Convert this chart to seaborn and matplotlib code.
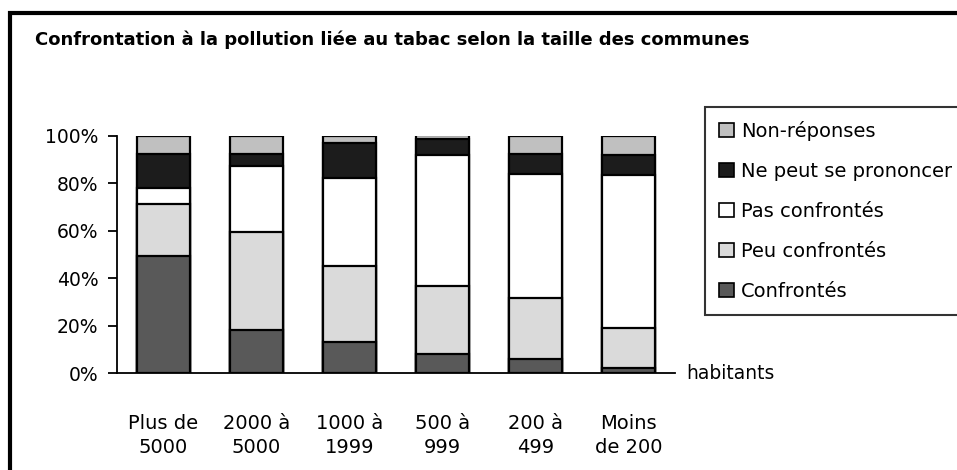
import pandas as pd
import numpy as np
import matplotlib.pyplot as plt
from matplotlib.patches import Patch, Rectangle
import seaborn as sns

sns.set_style('white')
plt.rcParams['font.family'] = ['DejaVu Sans']
plt.rcParams['text.color'] = 'black'

# chart data (percent of respondents)
communes = ['Plus de\n5000', '2000 à\n5000', '1000 à\n1999', '500 à\n999', '200 à\n499', 'Moins\nde 200']
confrontes = [49.4, 18.2, 13.3, 8.1, 5.9, 2.1]
peu_confrontes = [21.9, 41.4, 32.0, 28.8, 25.9, 17.0]
pas_confrontes = [6.6, 27.4, 36.8, 54.7, 52.1, 64.1]
ne_peut = [14.5, 5.4, 14.7, 6.9, 8.5, 8.5]
non_reponses = [7.6, 7.6, 3.2, 1.5, 7.6, 8.3]

series = ['Confrontés', 'Peu confrontés', 'Pas confrontés', 'Ne peut se prononcer', 'Non-réponses']
colors = ['#595959', '#dadada', '#ffffff', '#1c1c1c', '#c0c0c0']

df = pd.DataFrame({
    'Taille': communes,
    'Confrontés': confrontes,
    'Peu confrontés': peu_confrontes,
    'Pas confrontés': pas_confrontes,
    'Ne peut se prononcer': ne_peut,
    'Non-réponses': non_reponses,
})
# normalise each bar to 100 % and stack
df[series] = df[series].div(df[series].sum(axis=1), axis=0) * 100
cum = df[series].cumsum(axis=1)

fig = plt.figure(figsize=(9.57, 4.70), dpi=100)
ax = fig.add_axes([117 / 957, 1 - 373.3 / 470, 558 / 957, 237.8 / 470])

# draw cumulative bars from the top layer down
for name, col in reversed(list(zip(series, colors))):
    tmp = pd.DataFrame({'Taille': df['Taille'], 'val': cum[name]})
    sns.barplot(data=tmp, x='Taille', y='val', color=col, saturation=1,
                width=0.58, edgecolor='black', linewidth=1.6, errorbar=None, ax=ax)

ax.set_xlim(-0.5, 5.5)
ax.set_ylim(0, 100)
ax.set_yticks(np.arange(0, 101, 20))
ax.set_yticklabels([f'{v}%' for v in range(0, 101, 20)])
ax.set_xlabel('')
ax.set_ylabel('')
for s in ['top', 'right']:
    ax.spines[s].set_visible(False)
for s in ['left', 'bottom']:
    ax.spines[s].set_color('black')
    ax.spines[s].set_linewidth(1.3)
ax.tick_params(axis='y', left=True, direction='out', length=6.5, width=1.3,
               pad=7, labelsize=13.5, colors='black')
ax.tick_params(axis='x', length=0, pad=29, labelsize=14, colors='black')
for lbl in ax.get_xticklabels():
    lbl.set_linespacing(1.38)

ax.text(1.021, 0, 'habitants', transform=ax.transAxes, ha='left', va='center', fontsize=13.4)

fig.text(35 / 957, 1 - 40 / 470, 'Confrontation à la pollution liée au tabac selon la taille des communes',
         fontsize=13, fontweight='bold', ha='left', va='center')

# legend, top layer first
handles = [Patch(facecolor=c, edgecolor='black', linewidth=1.2, label=n)
           for n, c in reversed(list(zip(series, colors)))]
leg = fig.legend(handles=handles, loc='upper left', bbox_to_anchor=(705 / 957, 1 - 107 / 470),
                 fontsize=14, frameon=True, fancybox=False, handlelength=0.77, handleheight=0.77,
                 handletextpad=0.35, labelspacing=1.08, borderpad=0.72, borderaxespad=0)
leg.get_frame().set_edgecolor('black')
leg.get_frame().set_linewidth(1.5)

# outer border of the chart area
fig.patches.append(Rectangle((9.5 / 957, -0.05), 1.2, 1 - 13.3 / 470 + 0.05, transform=fig.transFigure,
                             fill=False, edgecolor='black', linewidth=3))

fig.savefig('out.png', dpi=100)
